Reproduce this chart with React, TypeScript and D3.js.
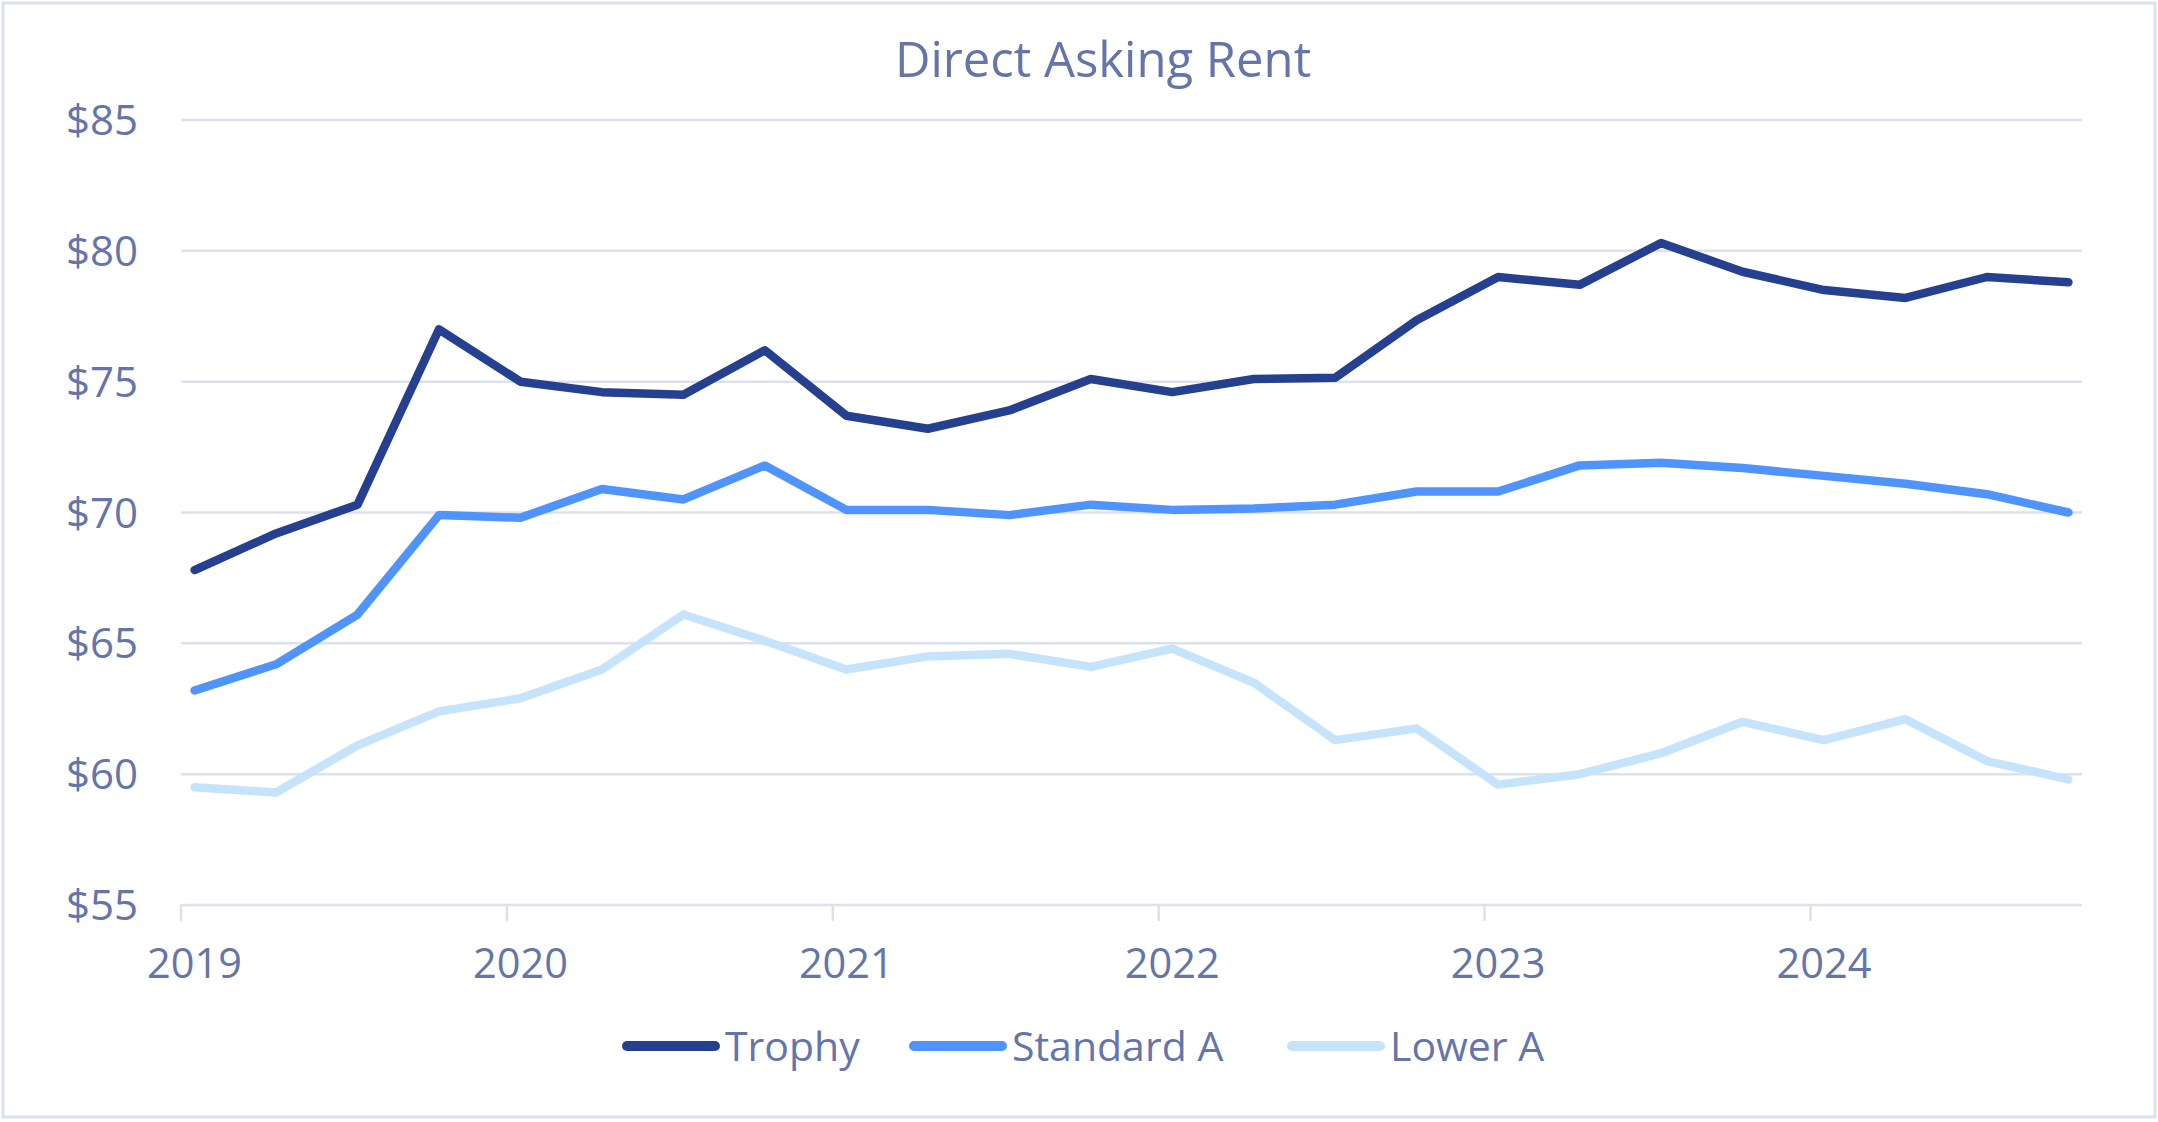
import React from "react";
import * as d3 from "d3";

// quarterly observations, Jan 2019 .. Oct 2024
const quarters: string[] = [
  "2019-01", "2019-04", "2019-07", "2019-10",
  "2020-01", "2020-04", "2020-07", "2020-10",
  "2021-01", "2021-04", "2021-07", "2021-10",
  "2022-01", "2022-04", "2022-07", "2022-10",
  "2023-01", "2023-04", "2023-07", "2023-10",
  "2024-01", "2024-04", "2024-07", "2024-10",
];

const trophy: number[] = [
  67.8, 69.2, 70.3, 77.0, 75.0, 74.6, 74.5, 76.2,
  73.7, 73.2, 73.9, 75.1, 74.6, 75.1, 75.15, 77.35,
  79.0, 78.7, 80.3, 79.2, 78.5, 78.2, 79.0, 78.8,
];
const standardA: number[] = [
  63.2, 64.2, 66.1, 69.9, 69.8, 70.9, 70.5, 71.8,
  70.1, 70.1, 69.9, 70.3, 70.1, 70.15, 70.3, 70.8,
  70.8, 71.8, 71.9, 71.7, 71.4, 71.1, 70.7, 70.0,
];
const lowerA: number[] = [
  59.5, 59.3, 61.1, 62.4, 62.9, 64.0, 66.1, 65.1,
  64.0, 64.5, 64.6, 64.1, 64.8, 63.5, 61.3, 61.75,
  59.6, 60.0, 60.8, 62.0, 61.3, 62.1, 60.5, 59.8,
];

const seriesNames: string[] = ["Trophy", "Standard A", "Lower A"];
const seriesColors: string[] = ["#25408f", "#4f94fc", "#c5e4fc"];
const yTicks: number[] = [55, 60, 65, 70, 75, 80, 85];
const yearLabels: string[] = ["2019", "2020", "2021", "2022", "2023", "2024"];

const App: React.FC = () => {
  const width = 2158;
  const height = 1122;
  const left = 181;
  const right = 2082;
  const top = 120;
  const bottom = 905;
  const textColor = "#6575a9";
  const gridColor = "#dde1ec";
  const font = "'Open Sans', 'Noto Sans', sans-serif";

  // date axis with month slots: Jan 2019 .. Oct 2024 = 70 months
  const months = d3.range(70);
  const xBand = d3.scaleBand<number>().domain(months).range([left, right]).padding(0);
  const monthIndex = (q: string) => {
    const [y, m] = q.split("-").map(Number);
    return (y - 2019) * 12 + (m - 1);
  };
  const xOf = (q: string) => xBand(monthIndex(q))! + xBand.bandwidth() / 2;

  const yScale = d3.scaleLinear().domain([55, 85]).range([bottom, top]);

  const line = d3
    .line<number>()
    .x((_, i) => xOf(quarters[i]))
    .y((d) => yScale(d));

  const allSeries = [trophy, standardA, lowerA];

  const legendX = [627, 914, 1292];
  const legendY = 1046;

  return (
    <svg
      width={width}
      height={height}
      style={{ position: "absolute", left: 0, top: 0, background: "#fff" }}
      fontFamily={font}
    >
      <rect x={3} y={3} width={width - 6} height={height - 8} fill="#fff" stroke={gridColor} strokeWidth={3} />

      <text x={1103} y={77} textAnchor="middle" fill={textColor} fontSize={49}>
        Direct Asking Rent
      </text>

      {/* grid + y labels */}
      {yTicks.map((t) => (
        <g key={t}>
          <line x1={left} x2={right} y1={yScale(t)} y2={yScale(t)} stroke={gridColor} strokeWidth={2.5} />
          <text x={138} y={yScale(t)} dy="0.36em" textAnchor="end" fill={textColor} fontSize={42}>
            {`$${t}`}
          </text>
        </g>
      ))}

      {/* x ticks at year starts */}
      {yearLabels.map((yr, i) => {
        const m = i * 12;
        const xt = xBand(m)!;
        return (
          <g key={yr}>
            <line x1={xt} x2={xt} y1={bottom} y2={bottom + 16} stroke={gridColor} strokeWidth={2.5} />
            <text x={xt + xBand.bandwidth() / 2} y={978} textAnchor="middle" fill={textColor} fontSize={41.5}>
              {yr}
            </text>
          </g>
        );
      })}

      {/* series lines, lightest drawn first */}
      {[2, 1, 0].map((si) => (
        <path
          key={seriesNames[si]}
          d={line(allSeries[si]) || ""}
          fill="none"
          stroke={seriesColors[si]}
          strokeWidth={8.5}
          strokeLinejoin="round"
          strokeLinecap="round"
        />
      ))}

      {/* legend */}
      {seriesNames.map((name, i) => (
        <g key={name}>
          <line
            x1={legendX[i]}
            x2={legendX[i] + 88}
            y1={legendY}
            y2={legendY}
            stroke={seriesColors[i]}
            strokeWidth={10}
            strokeLinecap="round"
          />
          <text x={legendX[i] + 98} y={legendY} dy="0.36em" fill={textColor} fontSize={41}>
            {name}
          </text>
        </g>
      ))}
    </svg>
  );
};

export default App;
